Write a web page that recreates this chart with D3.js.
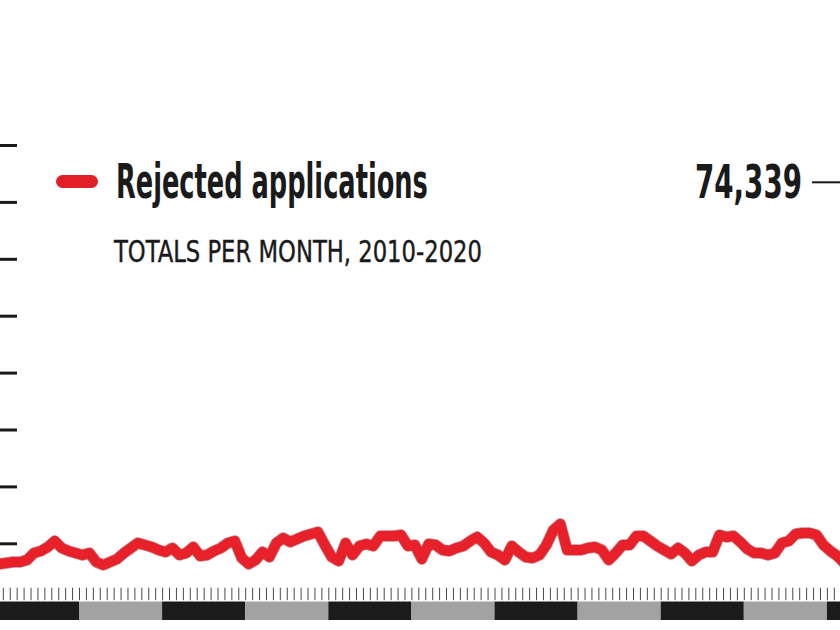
<!DOCTYPE html>
<html>
<head>
<meta charset="utf-8">
<script src="https://cdn.jsdelivr.net/npm/d3@7"></script>
<style>
  html, body { margin: 0; padding: 0; background: #fff; }
  svg { display: block; }
</style>
</head>
<body>
<script>
// monthly totals of rejected applications, Jan 2010 onward (visible part of the chart)
const startYear = 2010;
const rejected = [
  6360, 6540, 6710, 6710, 7070, 8300, 8650, 9350, 10400, 9170,
  8650, 8300, 7940, 8300, 6710, 6190, 6710, 7240, 8300, 9170,
  10050, 9700, 9350, 8820, 8470, 9170, 7940, 8300, 9350, 7770,
  7940, 8650, 9170, 10050, 10400, 7420, 6360, 7070, 8470, 7590,
  10050, 10930, 10230, 10760, 11280, 11640, 11990, 9700, 7590, 6890,
  10050, 7940, 9530, 9880, 9530, 11280, 11280, 11280, 11460, 9530,
  9700, 7240, 9880, 9700, 8820, 8650, 9170, 9530, 10400, 11110,
  10050, 8470, 7940, 7070, 9530, 8470, 7590, 7420, 7940, 9700,
  12340, 13390, 8820, 8820, 8820, 9170, 9350, 8820, 7070, 8300,
  9700, 9700, 11280, 11280, 10400, 9530, 8820, 8120, 9170, 8300,
  6890, 7940, 8470, 8470, 11460, 11110, 11280, 10230, 9000, 8300,
  8300, 7940, 8300, 10050, 10400, 11640, 11810, 11810, 11460, 9700,
  8650, 7770, 6540
];
const years = [2010, 2011, 2012, 2013, 2014, 2015, 2016, 2017, 2018, 2019, 2020];
const yTicks = [10000, 20000, 30000, 40000, 50000, 60000, 70000, 80000];
const titleText = "Rejected applications";
const subtitleText = "TOTALS PER MONTH, 2010-2020";
const peakLabel = "74,339";

const W = 840, H = 630;
const baseY = 600.2;

const svg = d3.select("body").append("svg")
  .attr("width", W)
  .attr("height", H);

// month index -> pixels
const x = d3.scaleLinear()
  .domain([0, years.length * 12])
  .range([-4.1, 910]);

const y = d3.scaleLinear()
  .domain([0, 80000])
  .range([baseY, 145]);

// y ticks (labels fall outside the crop)
svg.append("g")
  .attr("transform", "translate(17,0)")
  .call(d3.axisLeft(y).tickValues(yTicks).tickSize(17).tickFormat(""))
  .call(g => g.select(".domain").remove())
  .call(g => g.selectAll(".tick line")
    .attr("stroke", "#1a1a1a")
    .attr("stroke-width", 3));

// month ticks
const months = d3.range(0, years.length * 12 + 1);
svg.append("g")
  .attr("transform", `translate(0,${baseY})`)
  .call(d3.axisTop(x).tickValues(months).tickSize(12.5).tickFormat(""))
  .call(g => g.select(".domain").remove())
  .call(g => g.selectAll(".tick line")
    .attr("stroke", "#4a4a4a")
    .attr("stroke-width", 1));

// alternating year bands
svg.append("g").selectAll("rect")
  .data(years)
  .enter()
  .append("rect")
  .attr("x", (d) => x((d - startYear) * 12))
  .attr("y", baseY + 1.3)
  .attr("width", (d) => x((d - startYear + 1) * 12) - x((d - startYear) * 12))
  .attr("height", 18.5)
  .style("fill", (d, i) => i % 2 === 0 ? "#1b1b1b" : "#a2a2a2");

// the line
const line = d3.line()
  .x((d, i) => x(i + 0.5))
  .y((d) => y(d))
  .curve(d3.curveLinear);

svg.append("path")
  .datum(rejected)
  .attr("d", line)
  .attr("fill", "none")
  .attr("stroke", "#8c1a1e")
  .attr("stroke-opacity", 0.5)
  .attr("stroke-width", 11.5)
  .attr("stroke-linejoin", "round")
  .attr("stroke-linecap", "round");

svg.append("path")
  .datum(rejected)
  .attr("d", line)
  .attr("fill", "none")
  .attr("stroke", "#e8202a")
  .attr("stroke-width", 10)
  .attr("stroke-linejoin", "round")
  .attr("stroke-linecap", "round");

// condensed text: draw normally, then squeeze horizontally to the wanted width
const condensed = "'Liberation Sans Narrow', 'DejaVu Sans Condensed', 'Roboto', sans-serif";

function squeezedText(str, px, py, wantWidth, size, weight) {
  const t = svg.append("text")
    .attr("x", 0)
    .attr("y", 0)
    .style("font-family", condensed)
    .style("font-weight", weight)
    .style("font-size", size + "px")
    .style("fill", "#1a1a1a")
    .text(str);
  const natural = t.node().getComputedTextLength();
  const k = wantWidth / natural;
  t.attr("transform", `translate(${px},${py}) scale(${k},1)`);
  return t;
}

svg.append("rect")
  .attr("x", 56)
  .attr("y", 175)
  .attr("width", 42)
  .attr("height", 13)
  .attr("rx", 6.5)
  .style("fill", "#e21f26");

squeezedText(titleText, 116, 198, 312, 48, "bold");

squeezedText(subtitleText, 114, 262, 368, 30, "normal")
  .style("stroke", "#1a1a1a")
  .style("stroke-width", 0.4);

// peak annotation
squeezedText(peakLabel, 695, 198, 107, 46, "bold");

svg.append("line")
  .attr("x1", 812)
  .attr("x2", W)
  .attr("y1", 182.3)
  .attr("y2", 182.3)
  .attr("stroke", "#1a1a1a")
  .attr("stroke-width", 2);
</script>
</body>
</html>
